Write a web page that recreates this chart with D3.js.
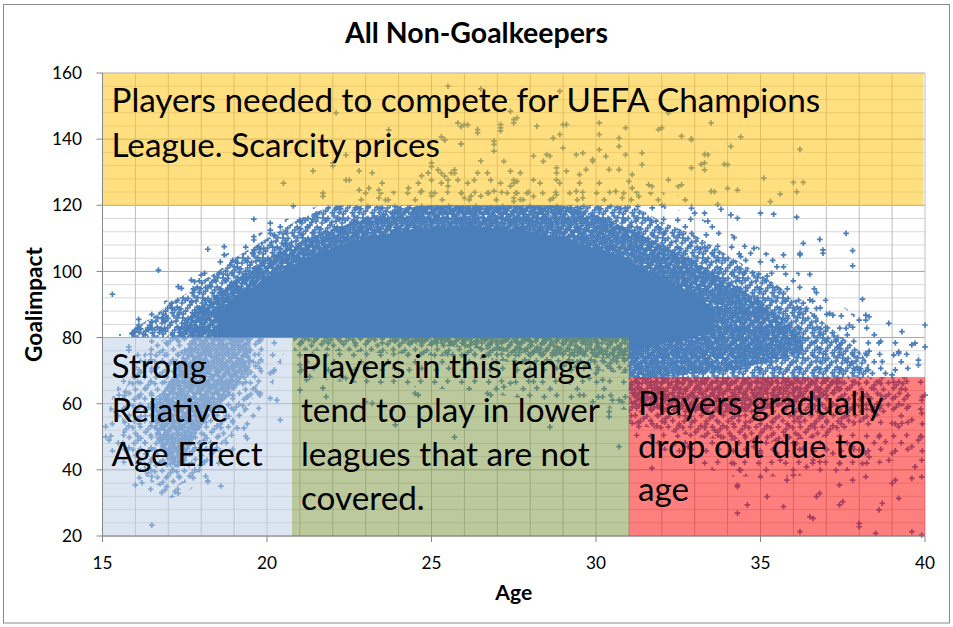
<!DOCTYPE html>
<html><head><meta charset="utf-8">
<script src="https://cdn.jsdelivr.net/npm/d3@7/dist/d3.min.js"></script>
<style>body{margin:0;background:#fff}svg{display:block}text{font-family:Lato,"Open Sans",sans-serif}</style>
</head><body><svg id="c" width="953" height="627"></svg>
<script>
// ---------------- DATA ----------------
const title = "All Non-Goalkeepers";
const xTitle = "Age", yTitle = "Goalimpact";
const xTicks = [15, 20, 25, 30, 35, 40];
const yTicks = [20, 40, 60, 80, 100, 120, 140, 160];

// density envelopes of the point cloud: [age, lowGoalimpact, highGoalimpact]
const mainOuter = [[15.5,80,81],[16,80,84],[17,80,92],[18,80,100],[19,80,107],[20,80,113],[21,80,118],[21.6,80,120],[31,80,120],[31,68,120],[32,68,120],[33,68,117],[34,68,112],[35,68,107],[36,68,101],[37,68,93],[38,68,86],[39,68,80],[39.8,68,76]];
const mainMid = [[15.8,80,82],[16.5,80,86],[17,80,90],[17.5,80,93],[18,80,97],[18.5,80,100],[19,80,104],[19.5,80,107],[20,80,110],[20.5,80,113],[21,80,116],[21.5,80,118],[22,80,120],[31,80,120],[31,68,120],[31.5,68,118],[32,68,115],[32.5,68,113],[33,68,111],[33.5,68,108],[34,68,105],[34.5,68,102],[35,68,99],[35.5,68,96],[36,68,92],[36.5,68,88],[37,68,84],[37.5,68,80],[38,68,76],[38.3,68,72]];
const mainDense = [[17.3,80,83],[17.8,80,88],[18.3,80,92],[19,80,97],[19.5,80,101],[20,80,104],[21,80,109],[22,80,113],[23,80,116],[24,80,119],[25,80,120],[29,80,120],[30,80,117],[31,80,113],[31,68,113],[32,68,108],[33,69,103],[34,70,97],[35,72,91],[35.8,74,85],[36.3,76,80]];
const mainCore = [[18.5,80,88],[19,80,92],[19.5,80,95],[20,80,98],[21,80,103],[22,80,107],[23,80,110],[24,80,112],[25,80,113],[26,80,114],[27,80,113],[28,80,112],[29,80,110],[30,80,107],[31,80,103],[31,76,103],[32,78,98],[33,80,93],[33.6,82,88]];
const upperBand = [[22.5,120,122],[23.5,120,124],[25,120,126],[28,120,126],[30,120,125],[32,120,124],[33,120,122]];
const youthOuter = [[15.2,46,60],[15.6,42,68],[16,38,76],[16.5,32,80],[17,31,80],[17.5,33,80],[18,36,80],[18.6,40,80],[19.2,46,80],[19.7,55,80],[20.1,64,80],[20.5,74,80]];
const youthMid = [[15.6,48,62],[16,42,72],[16.5,36,78],[17,34,80],[17.5,36,80],[18,40,80],[18.5,46,80],[19,52,80],[19.5,60,80],[19.9,70,80]];
const youthDense = [[16.6,50,60],[17.1,40,68],[17.5,42,76],[17.8,50,80],[18.3,57,80],[18.8,62,80],[19.5,71,80]];
const lowerSparse = [[20.8,68,80],[23,66,80],[26,64,80],[29,60,80],[31,58,80]];
const lowerMid = [[20.8,76,80],[22,76,80],[24,75,80],[26,74,80],[28,72,80],[30,70,80],[31,69,80]];
const lowerDense = [[24,78,80],[26,77,80],[28,75,80],[30,74,80],[31,73,80]];
const oldSparse = [[31,50,68],[32,46,68],[34,38,68],[36,38,68],[38,40,68],[40,45,68]];
const oldMid = [[31,54,68],[33,50,68],[35,48,68],[37,50,68],[38.5,56,68],[39.5,60,68]];
const oldDense = [[31,60,68],[32,58,68],[33,58,68],[34,57,68],[35,58,68],[36,60,68],[37,62,68],[37.5,64,68]];

// individually visible players [age, goalimpact]
const loosePoints = [
[25.5,156],[26.5,155.2],[22.1,147.9],[27.4,148.4],[25.8,144.9],[26,144.4],[26.4,142.9],[26.4,141.9],[27.1,144.4],[27.1,142.5],[25.4,139.8],[25.9,138.6],[26.9,139.4],[26.9,138.4],[27.5,144.9],[27.6,146.4],[26.9,136.4],[26.5,133.4],[25,132.8],[20.5,126.7],[21.4,130.4],[22,131.9],[22,132.8],[21.7,123.7],[21.7,122.7],[22.4,127.6],[22.5,127.6],[22.8,130.4],[23.2,129.8],[23.5,126.7],[23.1,125.2],[23.4,124.6],[24.3,125.2],[24.6,126.7],[24.7,128.9],[24.9,129.8],[25.2,130.7],[25.4,128.8],[25.6,129.8],[25.7,130.7],[25.3,126.7],[25.5,125.8],[26.1,126.7],[26.3,127.6],[26.4,129.8],[26.7,129.8],[26.8,127.6],[27.1,126.7],[27.4,125.8],[27.5,127.6],[22.8,124.6],[23,123.7],[24.7,124.3],[25,123.7],[25,122.8],[25.9,123.7],[26,122.2],[26.2,122.8],[26.5,122.8],[26.7,123.7],[26.9,124.3],[27.3,123.7],[27.5,122.2],[27.6,123.7],[23.4,122.2],[23.6,121.6],
[28.9,154.5],[27.5,145.9],[27.1,143.4],[28.2,143.9],[29,144.4],[29.1,144.4],[28.9,141.4],[28.7,140.3],[30.1,141.4],[30.1,144.9],[30.9,143.4],[30.7,140.3],[31.9,142.9],[32,143.4],[32.2,147.9],[32.6,140.9],[32.9,139.8],[33.5,144.9],[29,137.3],[28.1,134.9],[28.5,135.3],[28.6,134.9],[27.2,133.3],[28.4,133.3],[29.4,135.3],[29.6,135.8],[29.9,133.8],[29.9,133.3],[30.1,136.8],[30.3,134.8],[30.7,137.8],[30.9,135.3],[31.4,135.8],[31.4,132.3],[27.4,130.3],[27.7,129.8],[28.8,131.3],[28.8,129.8],[29.1,130.3],[29.5,129.3],[29.7,130.8],[30.4,130.8],[30.7,130.8],[31.1,129.3],[32.9,131.3],[33.3,132.8],[33.4,135.3],[34,132.3],[34.1,137.8],[27.5,126.7],[27.6,127.2],[28.1,127.7],[28.3,126.7],[28.8,127.7],[28.9,126.7],[29.5,126.7],[29.4,124.2],[30.1,126.7],[30.6,124.2],[31,127.2],[31.1,125.2],[31.6,126.2],[31.7,125.7],[32.2,127.7],[32.5,125.7],[32.6,126.2],[31.3,122.7],[29.6,122.2],[30.8,122.2],[33.5,124.2],[28.1,122.7],[27.9,123.7],[28.7,122.2],[28.8,123.2],[27.5,121.2],[27.7,121.7],
[36.2,136.9],[36.3,126.9],[36,126.9],[36.1,124.1],[35.6,123.4],[35.3,121.1],[35.1,128.2],[34.4,140.7],[33.9,132.4],[33.3,135.4],[33.2,132.4],[33.3,130.7],[32.9,140.1],[34.3,124.6],[34,125.1],[33.6,124.1],
[23.7,142.8],[22.4,135.2],[25.4,139.7],[25.3,140.7],[25.9,143.8],[26.1,144.3],[25.9,138.5],[25,131.7],[25,127.6],[25.3,129.7],[25.5,127.6],[25.7,129.7],[25.8,127.6],
[32,120.1],[32.9,119.1],[33,117.6],[33.3,117.6],[33.4,115.2],[33.7,120.3],[33.8,118.8],[34.1,117.1],[34.3,116.1],[35,117.6],[35.4,117.3],[36.1,116.4],[37.6,111.5],[36.8,109.7],[36.9,106.5],[36.9,105.5],[36.3,108.5],[36.2,105.5],[36.2,105],[37.8,106.3],[37.8,101.7],[36.5,99.1],[35.7,105],[35.7,101.4],[35.5,101.4],[35.2,98.6],[34.8,107],[34.7,105.5],[34.4,104.5],[34.2,110.2],[36.7,93.6],[36.5,91.4],[36.3,90.4],[36.4,88.8],[36.7,88.8],[37.1,87.3],[37.2,86.8],[38.1,91.6],[38.2,86.8],[38.3,86.3],[38.2,85.3],[38,85.3],[37.7,83.8],[37.6,82.8],[38.9,84.3],[39.3,81.8],[40,83.8],[40,77.2],[39.7,78.3],[39.6,77.8],[39.2,75.2],[39.2,75.7],[39.8,73.2],[39.8,71.7],[38.6,78.4],[38.3,75.9],[38.2,75.2],[38.7,72.7],[38.4,69.2],[39,68.7],[38.8,69.2],[37.3,79.3],[37.4,77.8],[37.8,72.2],[38,70.2],
[15.3,93.1],[16.7,100.4],[18.2,106.7],[16.1,85.5],[16.1,83.8],[15.9,81.1],[16,81.8],[16.5,84.8],[16.5,82.8],[16.8,85.8],[16.9,84.8],[17.1,90.4],[17.1,88.8],[17.3,95.4],[17.4,94.9],[17.7,97.4],[17.8,96.9],[18,98.9],[18.7,107.5],[18.7,105],[19.1,102.5],[19.6,110.5],[19.6,109.5],[19.6,115.8],[20.1,114.6],[20.1,112.5],[20.8,119.8],[21,115],[21.5,117.4],[22.1,119.1],[20.5,108],[20.6,108.5],[20.1,111.5],[19.6,106.5],[19.9,107],[19,101.4],[18.8,98.9],[18.4,97.4],[18.3,95.4],[16.4,82.3],[16.8,82.3],
[16.5,23.3],[16.8,33.1],[17.2,33.4],[17.3,32.9],[16,35.4],[16.2,36.1],[18.2,36.4],[18.6,35.1],[15.1,50],[15.2,49],[15.1,53.1],[19.4,49.5],[19.1,52.6],[19.3,52.6],[20.4,55.1],[20.3,61.1],[20.1,61.6],[19.7,63.6],[19.8,63.1],[20.1,69.2],[20.2,69.7],[15.5,62.6],[15.7,63.6],[15.4,57.6],[15.8,76.2],[15.8,77.2],[18.2,36.7],
[21,64.1],[21.7,64.7],[21.8,62.1],[23,60.6],[23.2,60.1],[23.8,58.1],[23.9,53.6],[25.7,49.9],[21.2,67.2],[21.3,68.2],[22.3,68.2],[22.4,67.7],[24.5,63.1],[24.6,62.6],[26.7,63.1],[26.8,62.6],[28.1,66.7],[28.2,64.7],[28.6,53],[28.7,55.6],[29.9,60.6],[30.2,62.1],[30.5,61.1],[30.7,61.1],[30.8,60.6],[29.8,67.7],[30,69.2],[30.2,67.2],[30.7,47],[30.4,57.6],[30.4,56.1],[29.5,62.6],[27.2,65.1],[27.4,66.2],[21,71.7],[21,69.7],
[34.3,34.9],[34.3,35.4],[34.6,29.4],[34.3,26.9],[35.2,31.9],[35.7,28.9],[36.2,21.3],[36.5,25.8],[36.6,25.3],[38,23.8],[38,22.8],[38.5,20.8],[39.6,21.3],[39.9,20.3],[38.6,27.9],[38.7,29.9],[37.4,29.4],[37.5,30.4],[37.4,35.4],[36.7,31.9],[36.8,32.9],[37.8,36.9],[38.2,37.9],[39.2,31.4],[39,35.9],[39.1,36.9],[39.6,37.4],[39.9,37.9],[39.7,40.9],[39.9,42.9],[35.8,36.9],[36,38.4],[35,37.9],[37.3,39.9],[37.4,41.9],[38.1,41.9],[38.3,43.9],[38.9,42.9],[39,45],[36.4,40.9],[36.6,42.9],[36.8,42.4],[39.6,47],[39.8,49],[39.9,50],[39.3,54.1],[39.6,55.1],[39.9,57.1],[39.5,59.1],[39.9,61.1],[40,62.6],[31.1,54.1],[31.3,53.1],[31.7,40.5],[32.4,48],[32.8,47],[33.6,52],[33.8,50],[34.2,41.9],[34.4,39.9],[34.8,47],[35,45],[35.5,45],[35.6,42.9],[36.1,48],[36.3,46.5],[37,46],[37.2,45],[37.8,47],[38,46],[38.2,45],[38.6,50],[38.8,48.5],[39,54.1],[39.2,53.1]
];

// annotation regions in data units [age0, age1, goal0, goal1]
const regionTop = [15, 39.95, 120, 160];
const regionYouth = [15, 20.76, 20, 80];
const regionLower = [20.76, 31, 20, 80];
const regionOld = [31, 40, 20, 68];
const textTop = ["Players needed to compete for UEFA Champions", "League. Scarcity prices"];
const textYouth = ["Strong", "Relative", "Age Effect"];
const textLower = ["Players in this range", "tend to play in lower", "leagues that are not", "covered."];
const textOld = ["Players gradually", "drop out due to", "age"];

// ---------------- DRAWING ----------------
const svg = d3.select("#c");
const W = 953, H = 627;
const L = 102.5, R = 925, T = 73, B = 536;
const x = d3.scaleLinear().domain([15, 40]).range([L, R]);
const y = d3.scaleLinear().domain([20, 160]).range([B, T]);
const BLUE = "#4A7EBB";

svg.append("rect").attr("width", W).attr("height", H).attr("fill", "#fff");
svg.append("rect").attr("x", 3.5).attr("y", 4.5).attr("width", 946).attr("height", 618.5)
  .attr("fill", "none").attr("stroke", "#8a8a8a").attr("stroke-width", 1);

// texture patterns of "+" markers (style only)
const tile = [[0.10,0.15],[0.62,0.64],[0.58,0.12],[0.16,0.70],[0.38,0.40],[0.88,0.88],[0.86,0.36],[0.40,0.92],[0.26,0.02],[0.74,0.50],[0.04,0.44],[0.50,0.26],[0.28,0.56],[0.96,0.62],[0.70,0.80],[0.14,0.90],[0.80,0.06],[0.46,0.74],[0.22,0.30],[0.66,0.34],[0.34,0.18],[0.92,0.20],[0.56,0.50],[0.06,0.78],[0.76,0.96],[0.30,0.78]];
const pats = {p1:[18,24], p2:[20,17], p3:[22,11], p4:[27,5]};
const defs = svg.append("defs");
const crossPath = "M-2.8,0H2.8M0,-2.8V2.8";
Object.entries(pats).forEach(([id, [S, N]]) => {
  const p = defs.append("pattern").attr("id", id).attr("patternUnits", "userSpaceOnUse")
    .attr("width", S).attr("height", S);
  tile.slice(0, N).forEach(t => {
    [-S, 0, S].forEach(dx => [-S, 0, S].forEach(dy => {
      p.append("path").attr("d", crossPath)
        .attr("transform", `translate(${t[0]*S+dx},${t[1]*S+dy})`)
        .attr("stroke", BLUE).attr("stroke-width", 1.7).attr("fill", "none");
    }));
  });
});

// gridlines
const g = svg.append("g");
d3.range(20, 161, 4).forEach(v => {
  g.append("line").attr("x1", L).attr("x2", R).attr("y1", y(v)).attr("y2", y(v))
    .attr("stroke", v % 20 === 0 ? "#a6a6a6" : "#d9d9d9").attr("stroke-width", 1);
});
d3.range(16, 41, 1).forEach(v => {
  g.append("line").attr("x1", x(v)).attr("x2", x(v)).attr("y1", T).attr("y2", B)
    .attr("stroke", "#bdbdbd").attr("stroke-width", 1);
});

// point cloud
const area = d3.area().x(d => x(d[0])).y0(d => y(d[1])).y1(d => y(d[2]));
const zones = [
  [mainOuter, "url(#p4)"], [mainMid, "url(#p2)"], [mainDense, "url(#p1)"], [mainCore, BLUE],
  [upperBand, "url(#p4)"],
  [youthOuter, "url(#p4)"], [youthMid, "url(#p3)"], [youthDense, "url(#p1)"],
  [lowerSparse, "url(#p4)"], [lowerMid, "url(#p3)"], [lowerDense, "url(#p2)"],
  [oldSparse, "url(#p4)"], [oldMid, "url(#p3)"], [oldDense, "url(#p2)"]
];
const cloud = svg.append("g");
zones.forEach(([d, f]) => cloud.append("path").attr("d", area(d)).attr("fill", f));
cloud.selectAll("path.pt").data(loosePoints).join("path").attr("class", "pt")
  .attr("d", crossPath).attr("transform", d => `translate(${x(d[0])},${y(d[1])})`)
  .attr("stroke", BLUE).attr("stroke-width", 1.7).attr("fill", "none");

// translucent annotation boxes
const regions = [
  [regionTop, "rgba(255,192,0,0.5)", textTop, 38.7, 45],
  [regionYouth, "rgba(185,205,229,0.5)", textYouth, 40.5, 44],
  [regionLower, "rgba(119,147,60,0.5)", textLower, 40.5, 44],
  [regionOld, "rgba(255,0,0,0.5)", textOld, 37.5, 43]
];
regions.forEach(([r, c]) => {
  svg.append("rect").attr("x", x(r[0])).attr("y", y(r[3]))
    .attr("width", x(r[1]) - x(r[0])).attr("height", y(r[2]) - y(r[3])).attr("fill", c);
});

// axes
svg.append("line").attr("x1", L).attr("x2", L).attr("y1", T).attr("y2", B).attr("stroke", "#868686");
svg.append("line").attr("x1", L).attr("x2", R).attr("y1", B).attr("y2", B).attr("stroke", "#868686");
yTicks.forEach(v => svg.append("line").attr("x1", L - 6).attr("x2", L).attr("y1", y(v)).attr("y2", y(v)).attr("stroke", "#868686"));
xTicks.forEach(v => svg.append("line").attr("x1", x(v)).attr("x2", x(v)).attr("y1", B).attr("y2", B + 6).attr("stroke", "#868686"));

function fit(str, weight, target) {
  const t = svg.append("text").attr("font-size", 100).attr("font-weight", weight).text(str);
  const w = t.node().getComputedTextLength(); t.remove();
  return 100 * target / w;
}
const tickSize = fit("160", 400, 30);
yTicks.forEach(v => svg.append("text").attr("x", 82).attr("y", y(v)).attr("dy", "0.36em")
  .attr("text-anchor", "end").attr("font-size", tickSize).attr("fill", "#000").text(v));
xTicks.forEach(v => svg.append("text").attr("x", x(v)).attr("y", 569)
  .attr("text-anchor", "middle").attr("font-size", tickSize).attr("fill", "#000").text(v));

svg.append("text").attr("x", 476.5).attr("y", 43).attr("text-anchor", "middle")
  .attr("font-weight", 700).attr("font-size", fit(title, 700, 263)).text(title);
svg.append("text").attr("x", (L + R) / 2).attr("y", 600).attr("text-anchor", "middle")
  .attr("font-weight", 700).attr("font-size", fit(xTitle, 700, 37)).text(xTitle);
svg.append("text").attr("transform", `translate(42,${(T + B) / 2}) rotate(-90)`).attr("text-anchor", "middle")
  .attr("font-weight", 700).attr("font-size", fit(yTitle, 700, 115)).text(yTitle);

const boxSize = fit(textTop[0], 400, 709);
regions.forEach(([r, c, lines, off, lh]) => {
  lines.forEach((s, i) => svg.append("text").attr("x", x(r[0]) + 9).attr("y", y(r[3]) + off + i * lh)
    .attr("font-size", boxSize).attr("fill", "#000").text(s));
});
</script></body></html>
